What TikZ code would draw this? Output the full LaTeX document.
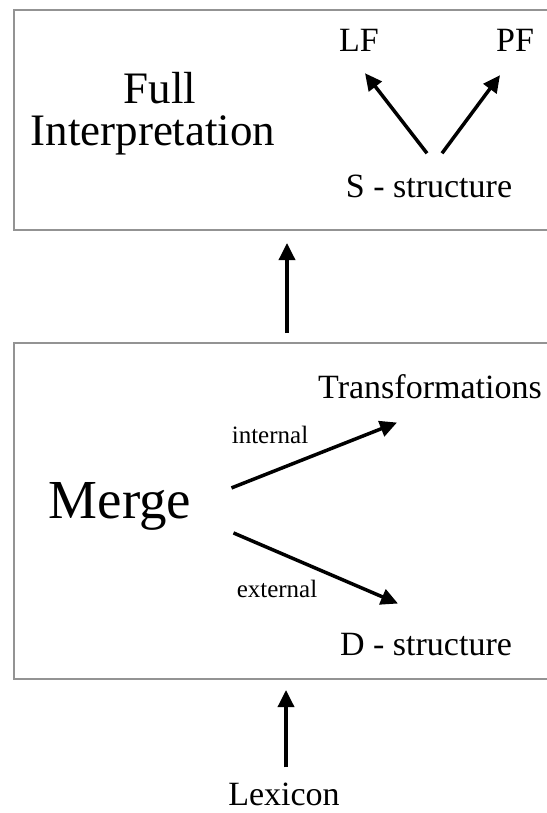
\documentclass[tikz,border=0pt]{standalone}
\usepackage{fontspec}
\setmainfont{Liberation Serif}
\usepackage{tikz}
\usetikzlibrary{arrows.meta,positioning,calc}

\begin{document}
\begin{tikzpicture}[
  x=1pt, y=-1pt,
  panel/.style={rectangle, draw=gray!85, line width=1.5pt, outer sep=0pt, inner sep=0pt},
  label/.style={inner sep=0pt, anchor=base, font=\fontsize{34}{40}\selectfont},
  big/.style={inner sep=0pt, anchor=base, font=\fontsize{45}{50}\selectfont},
  small/.style={inner sep=0pt, anchor=base, font=\fontsize{25}{30}\selectfont},
  arr/.style={line width=3.5pt, -{Triangle[length=17pt,width=16pt]}},
]
  \useasboundingbox (0,0) rectangle (546,813);

  % the two boxes
  \node[panel, minimum width=546pt, minimum height=220pt] (fibox) at (287,120) {};
  \node[panel, minimum width=546pt, minimum height=336pt] (mgbox) at (287,511) {};

  % upper box
  \node[big] (full) at (160,104) {Full};
  \node[big] (interp) at (153,146) {Interpretation};
  \node[label] (lf) at (359,52) {LF};
  \node[label] (pf) at (515,52) {PF};
  \node[label] (ss) at (429,197) {S - structure};
  \draw[arr] ([xshift=-2pt,yshift=21pt]ss.north) -- ([xshift=6pt,yshift=-21pt]lf.south);
  \draw[arr] ([xshift=13pt,yshift=21pt]ss.north) -- ([xshift=-15pt,yshift=-23pt]pf.south);

  % lower box
  \node[inner sep=0pt, anchor=base, font=\fontsize{55}{60}\selectfont] (merge) at (120,518) {Merge};
  \node[label] (tr) at (430,398) {Transformations};
  \node[label] (ds) at (426,655) {D - structure};
  \node[small] (int) at (270,443) {internal};
  \node[small] (ext) at (277,597) {external};
  \draw[arr] ([xshift=40pt,yshift=18pt]merge.east) -- ([xshift=-33pt,yshift=-24pt]tr.south);
  \draw[arr] ([xshift=42pt,yshift=-27pt]merge.east) -- ([xshift=-28pt,yshift=29pt]ds.north);

  % between and below
  \draw[arr, shorten <=10pt, shorten >=13pt] (mgbox.north) -- (fibox.south);
  \node[label] (lex) at (284,805) {Lexicon};
  \draw[arr, shorten <=15pt, shorten >=11pt] ([xshift=2pt]lex.north) -- ([xshift=2pt]lex.north |- mgbox.south);
\end{tikzpicture}
\end{document}
